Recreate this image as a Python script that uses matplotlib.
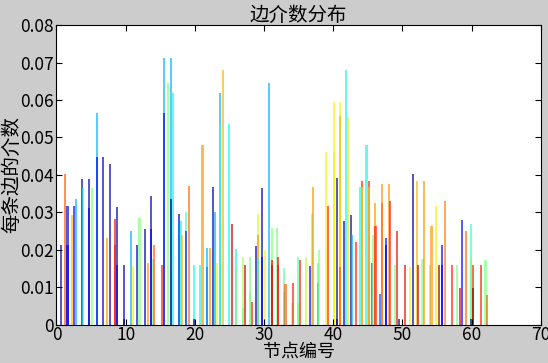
import matplotlib
matplotlib.use('Agg')
import matplotlib.pyplot as plt
from matplotlib import cm

plt.rcParams['font.family'] = ['Noto Sans CJK SC', 'DejaVu Sans']

# bar position (node index), edge betweenness, colour value (jet 0..1)
node_x = [0.6, 1.2, 1.6, 1.6, 2.2, 2.6, 2.8, 3.7, 3.9, 4.7, 4.7, 5.1, 5.8, 5.8,
          6.7, 7.3, 7.7, 8.4, 8.4, 8.7, 8.7, 9.75, 9.75, 10.8,
          11.0, 11.7, 12.0, 12.8, 13.2, 13.6, 13.6, 14.0, 14.1, 15.3, 15.6, 15.6,
          16.1, 16.6, 16.6, 16.9, 17.7, 17.7, 18.0, 18.2, 18.7, 18.7, 19.2,
          19.9, 19.9, 20.8,
          21.1, 21.8, 21.8, 22.2, 22.6, 22.9, 23.2, 23.7, 23.7, 24.1, 24.9, 25.4,
          25.9, 26.0, 26.9, 26.9, 27.3, 28.0, 28.0, 28.3, 28.8, 29.1, 29.1, 29.1,
          29.7, 29.7, 30.1, 30.75, 31.1,
          31.1, 31.2, 31.9, 32.0, 32.0, 32.9, 32.9, 33.1, 34.0, 34.2, 34.9, 34.9,
          35.2, 36.0, 36.6, 36.9, 36.9, 37.1, 37.8, 37.8, 37.9, 39.0, 39.3, 40.1,
          40.1, 40.5, 40.5,
          41.0, 41.0, 41.0, 41.5, 41.8, 42.1, 42.5, 42.7, 43.3, 43.9, 44.2, 44.2,
          44.8, 45.1, 45.1, 45.6, 45.8, 46.0, 46.1, 46.7, 47.1, 47.1, 47.6, 47.6,
          48.1, 48.2, 48.9, 49.2, 49.5, 50.3, 51.1,
          51.5, 52.05, 52.3, 52.9, 53.1, 54.0, 54.2, 54.9, 55.3, 55.7, 55.7, 56.2,
          57.2, 57.9, 58.3, 58.6, 59.2, 59.85, 59.85, 59.85, 60.2, 60.2, 61.3,
          62.0, 62.2]
betweenness = [0.0213, 0.0402, 0.0316, 0.0213, 0.0292, 0.0316, 0.0336, 0.0389, 0.0366,
               0.0389, 0.0313, 0.0366, 0.0566, 0.0449, 0.0449, 0.0231, 0.0428, 0.0283,
               0.0213, 0.0315, 0.016, 0.016, 0.0015, 0.025,
               0.0157, 0.0212, 0.0286, 0.0257, 0.0164, 0.0343, 0.0257, 0.0177, 0.0212,
               0.016, 0.0712, 0.0566, 0.0646, 0.0712, 0.0336, 0.0619, 0.0296, 0.0277,
               0.0277, 0.0241, 0.030, 0.025, 0.0371, 0.016, 0.0015, 0.016,
               0.048, 0.0204, 0.0155, 0.0204, 0.0368, 0.030, 0.0164, 0.0619, 0.0536,
               0.0679, 0.0536, 0.0268, 0.0202, 0.0152, 0.0182, 0.0045, 0.0159, 0.0181,
               0.009, 0.0062, 0.0211, 0.0297, 0.0241, 0.0181, 0.0366, 0.018, 0.0199,
               0.0646, 0.0258,
               0.016, 0.0172, 0.0258, 0.0181, 0.016, 0.0151, 0.0087, 0.0108, 0.0058,
               0.0112, 0.0182, 0.0058, 0.0173, 0.0181, 0.0157, 0.0297, 0.0181, 0.0368,
               0.0113, 0.0164, 0.0199, 0.0462, 0.0316, 0.0596, 0.0462, 0.0391, 0.0015,
               0.0596, 0.0556, 0.0155, 0.0277, 0.068, 0.0555, 0.0292, 0.0241, 0.0221,
               0.0368, 0.0383, 0.0368, 0.048, 0.0383, 0.0368, 0.0164, 0.0241, 0.0324,
               0.0265, 0.0082, 0.0375, 0.0324, 0.0231, 0.0214, 0.0377, 0.0331, 0.0159,
               0.025, 0.0015, 0.016, 0.0155,
               0.0402, 0.0383, 0.016, 0.0177, 0.0383, 0.0159, 0.0265, 0.0316, 0.016,
               0.0214, 0.016, 0.033, 0.016, 0.016, 0.0098, 0.0281, 0.025, 0.0268,
               0.0181, 0.0015, 0.016, 0.0098, 0.016, 0.0172, 0.0081]
colour_val = [0.05, 0.82, 0.05, 0.12, 0.72, 0.12, 0.3, 0.05, 0.37,
              0.05, 0.12, 0.5, 0.3, 0.12, 0.05, 0.75, 0.05, 0.9,
              0.88, 0.05, 0.12, 0.05, 0.0, 0.3,
              0.65, 0.05, 0.5, 0.05, 0.75, 0.05, 0.12, 0.5, 0.82,
              0.88, 0.3, 0.12, 0.5, 0.3, 0.02, 0.37, 0.05, 0.25,
              0.37, 0.72, 0.42, 0.15, 0.8, 0.37, 0.0, 0.37,
              0.75, 0.3, 0.25, 0.75, 0.05, 0.3, 0.65, 0.3, 0.4,
              0.72, 0.37, 0.93, 0.37, 0.5, 0.55, 0.5, 0.93, 0.5,
              0.5, 0.88, 0.05, 0.6, 0.75, 0.4, 0.05, 0.12, 0.65,
              0.3, 0.5,
              0.98, 0.9, 0.5, 0.9, 0.88, 0.45, 0.4, 0.82, 0.55,
              0.88, 0.45, 0.5, 0.88, 0.58, 0.12, 0.45, 0.58, 0.75,
              0.2, 0.42, 0.5, 0.65, 0.88, 0.65, 0.65, 0.05, 0.0,
              0.65, 0.72, 0.82, 0.05, 0.37, 0.68, 0.05, 0.3, 0.88,
              0.37, 0.88, 0.68, 0.37, 0.88, 0.7, 0.2, 0.5, 0.75,
              0.88, 0.2, 0.75, 0.8, 0.12, 0.1, 0.75, 0.88, 0.5,
              0.9, 0.0, 0.9, 0.65,
              0.05, 0.72, 0.93, 0.5, 0.75, 0.45, 0.75, 0.65, 0.98,
              0.12, 0.12, 0.78, 0.88, 0.5, 0.93, 0.12, 0.8, 0.42,
              0.5, 0.0, 0.88, 0.98, 0.88, 0.5, 0.82]

fig = plt.figure(figsize=(5.48, 3.63), dpi=100, facecolor='0.8')
ax = fig.add_axes([0.103, 0.105, 0.884, 0.826])

for x, h, c in zip(node_x, betweenness, colour_val):
    ax.bar(x, h, width=0.3, color=cm.jet(c), alpha=0.65, linewidth=0)

ax.set_xlim(0, 70)
ax.set_ylim(0, 0.08)
ax.set_xticks(range(0, 71, 10))
ax.set_yticks([i / 100 for i in range(9)])
ax.set_yticklabels(['0'] + ['%.2f' % (i / 100) for i in range(1, 9)])
ax.tick_params(direction='in', top=True, right=True, length=4, labelsize=12.5, pad=2)
ax.tick_params(axis='x', pad=1)
ax.set_title('边介数分布', fontsize=14, pad=3)
ax.set_xlabel('节点编号', fontsize=13, labelpad=-1)
ax.set_ylabel('每条边的介数', fontsize=14, labelpad=-2)

fig.savefig('out.png', dpi=100, facecolor=fig.get_facecolor())
